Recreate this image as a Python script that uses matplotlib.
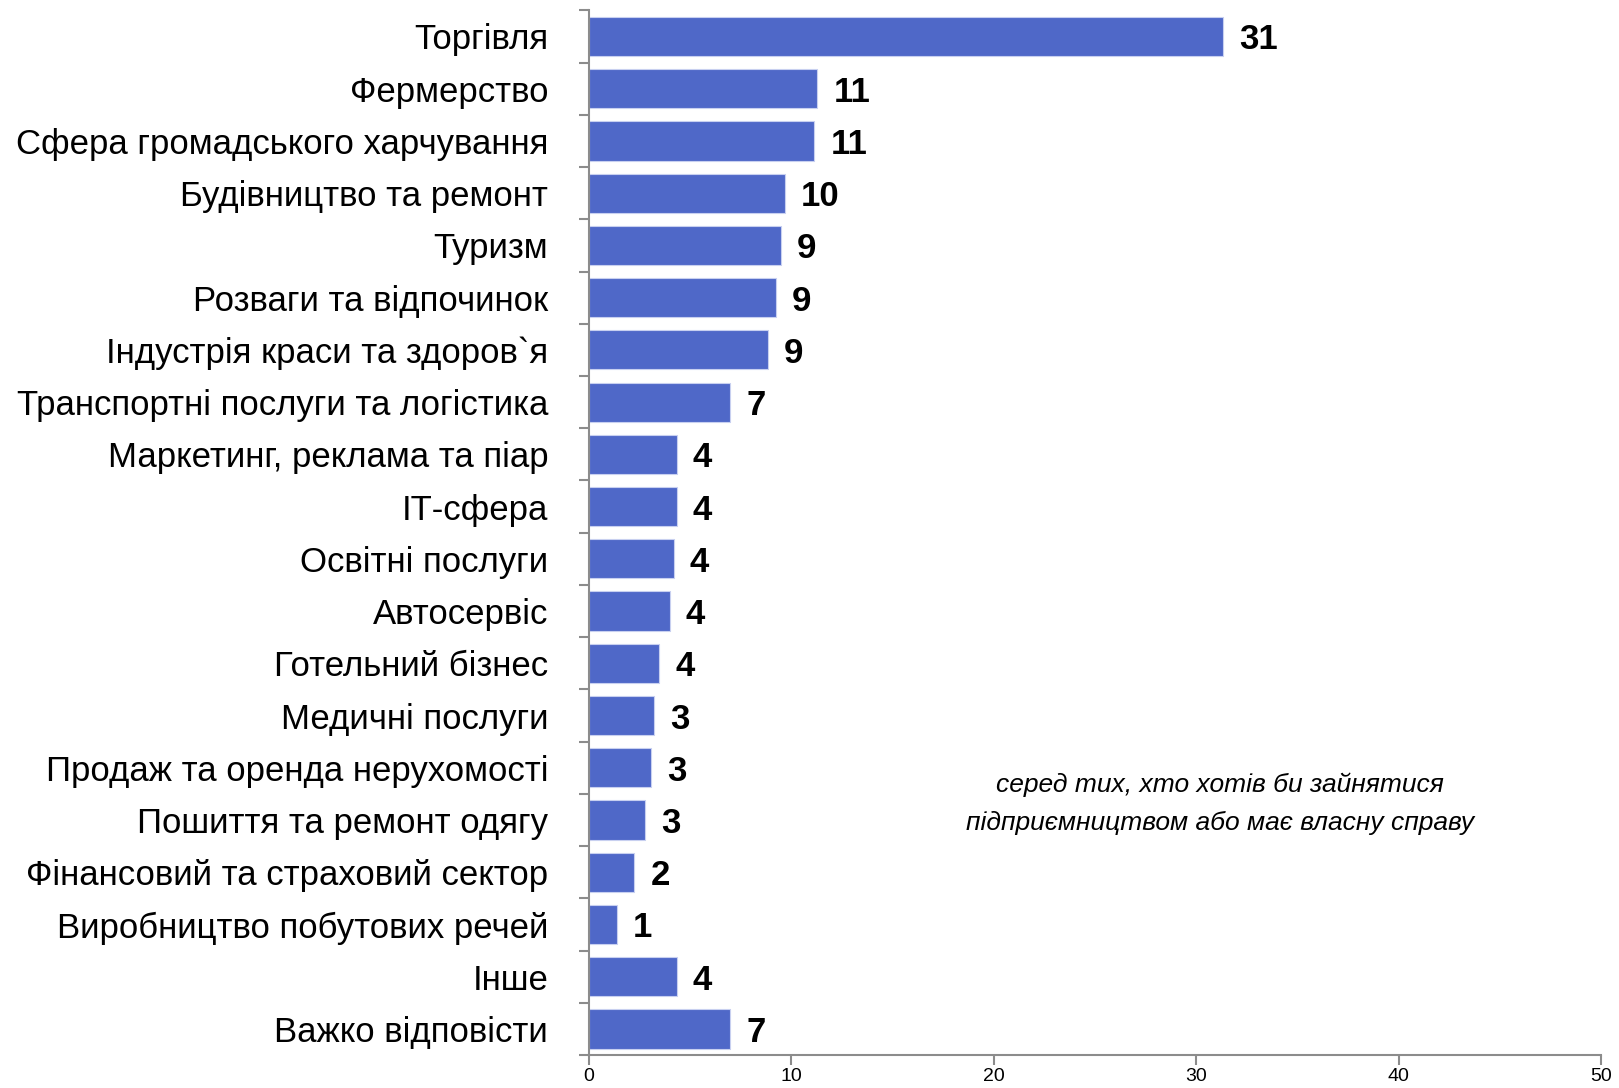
import numpy as np
import matplotlib.pyplot as plt

plt.rcParams['font.family'] = ['Liberation Sans', 'DejaVu Sans']

# дані
categories = ['Торгівля', 'Фермерство', 'Сфера громадського харчування',
              'Будівництво та ремонт', 'Туризм', 'Розваги та відпочинок',
              'Індустрія краси та здоров`я', 'Транспортні послуги та логістика',
              'Маркетинг, реклама та піар', 'ІТ-сфера', 'Освітні послуги',
              'Автосервіс', 'Готельний бізнес', 'Медичні послуги',
              'Продаж та оренда нерухомості', 'Пошиття та ремонт одягу',
              'Фінансовий та страховий сектор', 'Виробництво побутових речей',
              'Інше', 'Важко відповісти']
values = [31.35, 11.3, 11.15, 9.7, 9.5, 9.25, 8.85, 7.0, 4.35, 4.35,
          4.2, 4.0, 3.5, 3.25, 3.1, 2.8, 2.25, 1.4, 4.35, 7.0]
labels = ['31', '11', '11', '10', '9', '9', '9', '7', '4', '4',
          '4', '4', '4', '3', '3', '3', '2', '1', '4', '7']
xticks = [0, 10, 20, 30, 40, 50]

fig = plt.figure(figsize=(16.19, 10.88), dpi=100)
ax = fig.add_axes([0.3635, 0.0303, 0.6255, 0.9602])

y = np.arange(len(categories))
ax.barh(y, values, height=0.75, color='#4f68c8', edgecolor='#c8d0f0', linewidth=0.8)
for yi, v, lab in zip(y, values, labels):
    ax.text(v + 0.8, yi, lab, va='center_baseline', ha='left', fontsize=25,
            fontweight='bold', color='black')

ax.set_ylim(len(categories) - 0.5, -0.5)
ax.set_xlim(0, 50)
ax.set_yticks(y)
ax.set_yticklabels(categories, fontsize=25)
ax.set_yticks(np.arange(len(categories) + 1) - 0.5, minor=True)
ax.tick_params(axis='y', which='major', length=0, pad=29)
ax.tick_params(axis='y', which='minor', length=7, color='#8c8c8c', width=1.5)
ax.set_xticks(xticks)
ax.set_xticklabels([str(t) for t in xticks], fontsize=14)
ax.tick_params(axis='x', length=7, color='#8c8c8c', width=1.5, pad=2)

for s in ['top', 'right']:
    ax.spines[s].set_visible(False)
for s in ['left', 'bottom']:
    ax.spines[s].set_color('#8c8c8c')
    ax.spines[s].set_linewidth(1.5)

fig.text(0.7537, 0.261, 'серед тих, хто хотів би зайнятися\nпідприємництвом або має власну справу',
         ha='center', va='center', fontsize=19, style='italic', linespacing=1.75)

fig.savefig('out.png', dpi=100)
